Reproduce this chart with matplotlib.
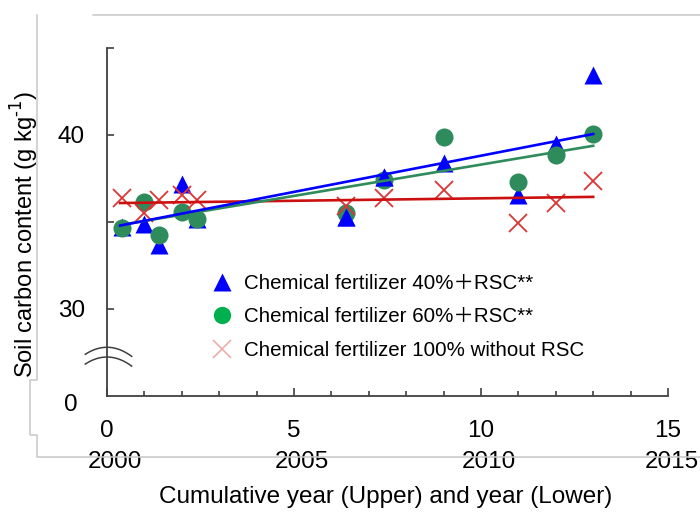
import numpy as np
import matplotlib
matplotlib.use("Agg")
import matplotlib.pyplot as plt
from matplotlib.lines import Line2D
from matplotlib.ticker import MultipleLocator, FixedLocator
from matplotlib import transforms

plt.rcParams["font.family"] = ["Liberation Sans", "Noto Sans CJK SC", "DejaVu Sans"]

# --- data --------------------------------------------------------------
cum_year = [0.4, 1, 1.4, 2, 2.4, 6.4, 7.4, 9, 11, 12, 13]

soc_40_rsc = [34.7, 34.9, 33.7, 37.2, 35.2, 35.3, 37.6, 38.4, 36.55, 39.5, 43.45]
soc_60_rsc = [34.66, 36.15, 34.25, 35.6, 35.17, 35.5, 37.4, 39.9, 37.3, 38.85, 40.05]
soc_100 = [36.4, 35.5, 36.25, 36.55, 36.25, 35.9, 36.4, 36.85, 34.95, 36.1, 37.35]

# regression lines (slope, intercept) as drawn in the figure
trend_slope = [0.416, 0.36, 0.028]
trend_intercept = [34.65, 34.70, 36.08]

labels = [
    "Chemical fertilizer 40%\uff0bRSC**",
    "Chemical fertilizer 60%\uff0bRSC**",
    "Chemical fertilizer 100% without RSC",
]

cum_ticks = [0, 5, 10, 15]
year_ticks = [2000, 2005, 2010, 2015]
y_major = [30, 40]
y_minor = [35, 45]

# triangles that sit on top of the circles at these positions
blue_front = [6.4, 7.4]

BLUE = "#0000FF"
GREEN = "#2E8B5C"
RED_X = "#DD3535"
RED_LINE = "#CC1010"
AXIS = "#404040"
FRAME = "#C8C8C8"
FS = 17.5

W, H = 700, 512
fig = plt.figure(figsize=(7, 5.12), dpi=100)
ax = fig.add_axes([107 / W, 1 - 396 / H, 561 / W, 348 / H])


def px(x, y):
    return x / W, 1 - y / H


# scanned frame remnants
for xs, ys in [
    ([93, 700], [15, 15]),
    ([37, 37, 30, 30, 37, 37, 700], [15, 380, 380, 435, 435, 457, 457]),
]:
    fx, fy = zip(*[px(a, b) for a, b in zip(xs, ys)])
    fig.add_artist(Line2D(fx, fy, color=FRAME, lw=1.1, transform=fig.transFigure))

x = np.array(cum_year)
ax.plot(x, soc_40_rsc, "^", ms=13.5, color=BLUE, mec="none", zorder=3)
ax.plot(x, soc_60_rsc, "o", ms=13, color=GREEN, mec="none", zorder=4)
front = np.isin(x, blue_front)
ax.plot(x[front], np.array(soc_40_rsc)[front], "^", ms=13.5, color=BLUE,
        mec="none", zorder=5)
ax.plot(x, soc_100, "x", ms=13, color=RED_X, mew=1.3, zorder=6)

xl = np.array([x.min() - 0.05, x.max()])
for k, c in enumerate([BLUE, GREEN, RED_LINE]):
    ax.plot(xl, trend_intercept[k] + trend_slope[k] * xl, color=c, lw=1.9,
            zorder=7 - k * 0.1 if k < 2 else 6.5)

ax.set_xlim(0, 15)
ax.set_ylim(25, 45)
for s in ["top", "right"]:
    ax.spines[s].set_visible(False)
for s in ["left", "bottom"]:
    ax.spines[s].set_color(AXIS)
    ax.spines[s].set_linewidth(1.3)

ax.set_xticks(cum_ticks)
ax.set_xticklabels([str(v) for v in cum_ticks], fontsize=FS)
ax.xaxis.set_minor_locator(MultipleLocator(1))
ax.tick_params(axis="x", which="major", direction="in", length=6, width=1.2,
               color=AXIS, pad=17.5)
ax.tick_params(axis="x", which="minor", direction="in", length=3.8, width=1.2,
               color=AXIS)

ax.set_yticks(y_major)
ax.set_yticklabels([str(v) for v in y_major], fontsize=FS)
ax.yaxis.set_minor_locator(FixedLocator(y_minor))
ax.tick_params(axis="y", which="both", direction="in", length=5, width=1.2,
               color=AXIS, pad=16)

# lower row: calendar years
ytrans = transforms.offset_copy(ax.get_xaxis_transform(), fig=fig, x=6,
                                y=0, units="points")
year_texts = []
for cx, yr in zip(cum_ticks, year_ticks):
    year_texts.append(ax.text(cx, -66 / 348, str(yr), transform=ytrans,
                              ha="center", va="center", fontsize=FS,
                              clip_on=False))

# keep the last year label inside the canvas
fig.canvas.draw()
last = year_texts[-1]
overflow = last.get_window_extent().x1 - (W - 1)
if overflow > 0:
    last.set_transform(transforms.offset_copy(
        ax.get_xaxis_transform(), fig=fig, x=6 - overflow * 72 / 100,
        y=0, units="points"))

# "0" at the bottom of the broken axis
ax.annotate("0", xy=(0, 25), xycoords="data", xytext=(-21.5, -6.5),
            textcoords="offset points", ha="right", va="center", fontsize=FS)

# axis break marks
dx = np.linspace(-0.58, 0.66, 40)
for peak in [27.8, 27.24]:
    ax.plot(dx, peak - 1.2 * dx ** 2, color=AXIS, lw=1.1, clip_on=False,
            zorder=8)

handles = [
    Line2D([], [], ls="none", marker="^", ms=12.5, color=BLUE, mec="none"),
    Line2D([], [], ls="none", marker="o", ms=12.5, color="#00B050", mec="none"),
    Line2D([], [], ls="none", marker="x", ms=12.5, color="#F2A5A5", mew=1.1),
]
fig.legend(handles, labels, loc="upper left", bbox_to_anchor=px(212, 274),
           frameon=False, fontsize=14.75, handlelength=1.0, handletextpad=0.55,
           labelspacing=0.7, borderpad=0, borderaxespad=0)

fig.text(25 / W, 1 - 234 / H, "Soil carbon content (g kg$^{\\text{-1}}$)",
         rotation=90, ha="center", va="center", fontsize=17)
fig.text(386 / W, 1 - 497 / H, "Cumulative year (Upper) and year (Lower)",
         ha="center", va="center", fontsize=17.5)

fig.savefig("out.png", dpi=100)
